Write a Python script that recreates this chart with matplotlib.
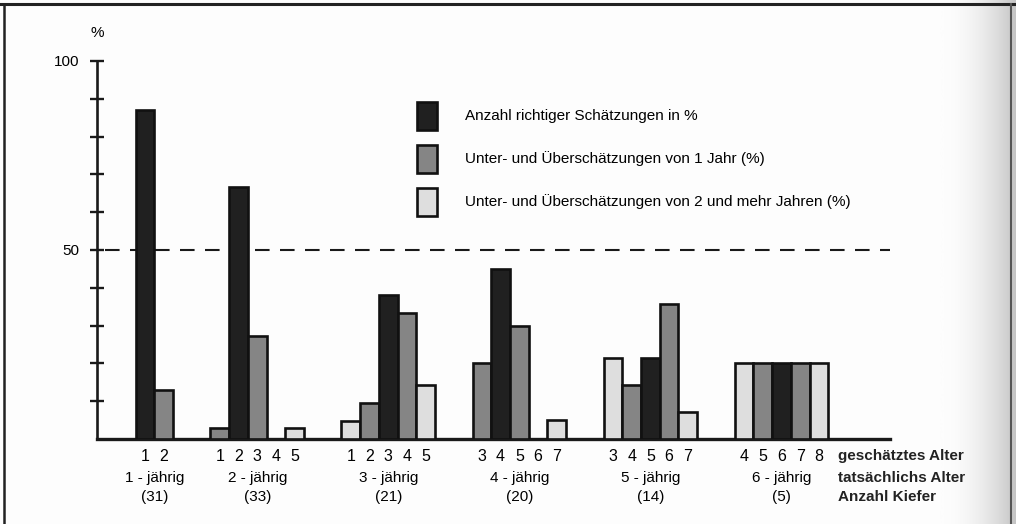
import numpy as np
import matplotlib
matplotlib.use("Agg")
import matplotlib.pyplot as plt
from matplotlib.patches import Rectangle
from matplotlib.lines import Line2D
from matplotlib.colors import LinearSegmentedColormap

plt.rcParams['font.family'] = ['Liberation Sans', 'DejaVu Sans']

# ---- data ----
group_labels = ["1 - jährig", "2 - jährig", "3 - jährig", "4 - jährig", "5 - jährig", "6 - jährig"]
actual_ages = [1, 2, 3, 4, 5, 6]
tree_counts = [31, 33, 21, 20, 14, 5]
estimated_ages = [[1, 2], [1, 2, 3, 4, 5], [1, 2, 3, 4, 5], [3, 4, 5, 6, 7], [3, 4, 5, 6, 7], [4, 5, 6, 7, 8]]
percent_values = [
    [87.1, 12.9],
    [3.0, 66.7, 27.3, 0.0, 3.0],
    [4.8, 9.5, 38.1, 33.3, 14.3],
    [20.0, 45.0, 30.0, 0.0, 5.0],
    [21.4, 14.3, 21.4, 35.7, 7.1],
    [20.0, 20.0, 20.0, 20.0, 20.0],
]
legend_labels = [
    "Anzahl richtiger Schätzungen in %",
    "Unter- und Überschätzungen von 1 Jahr (%)",
    "Unter- und Überschätzungen von 2 und mehr Jahren (%)",
]
row_labels = ["geschätztes Alter", "tatsächlichs Alter", "Anzahl Kiefer"]

# ---- style ----
colors = ["#202020", "#858585", "#dedede"]
group_start = [0, 4, 11, 18, 25, 32]

W, H = 1016, 524
fig = plt.figure(figsize=(W / 100, H / 100), dpi=100)
fig.patch.set_facecolor("#fdfdfd")

# right-edge scan shading and frame
bg = fig.add_axes([0, 0, 1, 1], zorder=-10)
bg.set_xlim(0, W); bg.set_ylim(H, 0); bg.axis("off")
grad = np.linspace(0, 1, 200)[None, :] ** 2
cm = LinearSegmentedColormap.from_list("g", ["#fdfdfd", "#c4c4c4"])
bg.imshow(grad, extent=[940, 1016, H, 0], cmap=cm, aspect="auto")
bg.add_line(Line2D([0, W], [4, 4], color="#222222", lw=2.2))
bg.add_line(Line2D([4, 4], [4, H], color="#222222", lw=1.8))
bg.add_line(Line2D([1011, 1011], [4, H], color="#555555", lw=1.5))

def px(x, y):
    return x / W, 1 - y / H

x_left, x_right = 97, 890
y_top, y_base = 61, 439
slot_left, slot_right = -2.56, 39.8

ax = fig.add_axes([x_left / W, 1 - y_base / H, (x_right - x_left) / W, (y_base - y_top) / H])
ax.set_facecolor("none")
ax.set_xlim(slot_left, slot_right)
ax.set_ylim(0, 100)
for s in ["top", "right"]:
    ax.spines[s].set_visible(False)
ax.spines["left"].set_linewidth(1.9)
ax.spines["bottom"].set_linewidth(2.4)
ax.spines["left"].set_color("#1a1a1a")
ax.spines["bottom"].set_color("#1a1a1a")
ax.set_yticks(np.arange(10, 101, 10))
ax.set_yticklabels(["" if v not in (50, 100) else str(v) for v in range(10, 101, 10)])
ax.tick_params(axis="y", direction="inout", length=10, width=1.7, pad=8, labelsize=11, color="#1a1a1a")
ax.set_xticks([])

ax.axhline(50, color="#1a1a1a", lw=1.5, dashes=(7, 5), xmin=0.01)

for g, (ages, vals) in enumerate(zip(estimated_ages, percent_values)):
    for i, (a, v) in enumerate(zip(ages, vals)):
        xpos = group_start[g] + i
        dev = abs(a - actual_ages[g])
        c = colors[min(dev, 2)]
        if v > 0:
            ax.bar(xpos, v, width=1.0, color=c, edgecolor="#111111", linewidth=1.9, zorder=3)
        ax.text(xpos, -4.5, str(a), ha="center", va="center", fontsize=11.5, clip_on=False)
    center = group_start[g] + (len(ages) - 1) / 2
    ax.text(center, -10.3, group_labels[g], ha="center", va="center", fontsize=11, clip_on=False)
    ax.text(center, -15.3, f"({tree_counts[g]})", ha="center", va="center", fontsize=11, clip_on=False)

# row labels on right
for lab, yy in zip(row_labels, [456, 478, 497]):
    fig.text(*px(838, yy), lab, ha="left", va="center", fontsize=11, fontweight="bold", color="#222222")

# % label
fig.text(*px(97, 33), "%", ha="center", va="center", fontsize=11)

# legend
for lab, c, yc in zip(legend_labels, colors, [116, 159, 202]):
    x0, y0 = px(417, yc + 14)
    fig.add_artist(Rectangle((x0, y0), 20 / W, 28 / H, transform=fig.transFigure,
                             facecolor=c, edgecolor="#111111", linewidth=1.9))
    fig.text(*px(465, yc), lab, ha="left", va="center", fontsize=11)

fig.savefig("out.png", dpi=100, facecolor=fig.get_facecolor())
